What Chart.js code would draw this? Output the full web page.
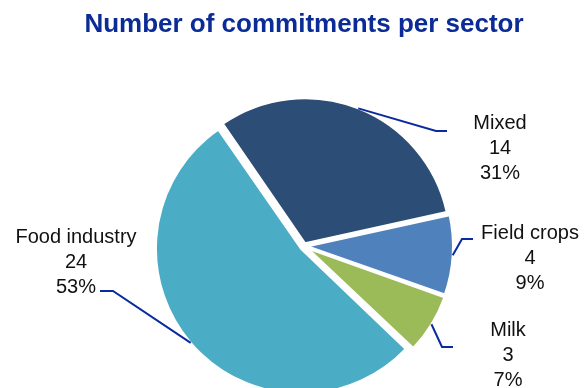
<!DOCTYPE html>
<html>
<head>
<meta charset="utf-8">
<script src="https://cdn.jsdelivr.net/npm/chart.js@4"></script>
<style>
  html, body { margin: 0; padding: 0; background: #fff; overflow: hidden; }
  #wrap { position: relative; width: 584px; height: 388px; }
</style>
</head>
<body>
<div id="wrap"><canvas id="chart"></canvas></div>
<script>
const sectors = ['Mixed', 'Field crops', 'Milk', 'Food industry'];
const commitments = [14, 4, 3, 24];
const sliceColors = ['#2C4D75', '#4F81BD', '#9BBB59', '#4BACC6'];
const explode = [12, 16, 18, 16]; // chart.js pushes a slice out by offset / 4

// text centre of each label and the bend of its leader line
const labelSpots = [
  { tx: 500, ty: 123, bendX: 436, bendY: 131, endX: 447 },
  { tx: 530, ty: 233, bendX: 462, bendY: 239, endX: 473 },
  { tx: 508, ty: 330, bendX: 442, bendY: 347, endX: 453 },
  { tx: 76, ty: 237, bendX: 113, bendY: 291, endX: 100 }
];

Chart.defaults.font.family = '"Liberation Sans", Arial, sans-serif';

// exploded arcs get a slightly larger radius in chart.js; keep every slice the same size
const evenRadius = {
  id: 'evenRadius',
  beforeDatasetDraw(chart, args) {
    args.meta.data.forEach(arc => {
      const shift = (arc.options.offset || 0) / 4;
      arc.$bump = shift * (1 - Math.sin(Math.min(Math.PI, arc.circumference)));
      arc.outerRadius -= arc.$bump;
    });
  },
  afterDatasetDraw(chart, args) {
    args.meta.data.forEach(arc => { arc.outerRadius += arc.$bump; });
  }
};

const sliceLabels = {
  id: 'sliceLabels',
  afterDatasetsDraw(chart) {
    const ctx = chart.ctx;
    const meta = chart.getDatasetMeta(0);
    const total = commitments.reduce((a, b) => a + b, 0);
    meta.data.forEach((arc, i) => {
      const p = arc.getProps(['x', 'y', 'startAngle', 'endAngle', 'outerRadius'], true);
      const mid = (p.startAngle + p.endAngle) / 2;
      const shift = (arc.options.offset || 0) / 4;
      const ax = p.x + Math.cos(mid) * (shift + p.outerRadius);
      const ay = p.y + Math.sin(mid) * (shift + p.outerRadius);
      const s = labelSpots[i];

      ctx.save();
      ctx.strokeStyle = '#0A2A9E';
      ctx.lineWidth = 2;
      ctx.beginPath();
      ctx.moveTo(ax, ay);
      ctx.lineTo(s.bendX, s.bendY);
      ctx.lineTo(s.endX, s.bendY);
      ctx.stroke();

      ctx.fillStyle = '#111';
      ctx.font = '20px "Liberation Sans", Arial, sans-serif';
      ctx.textAlign = 'center';
      ctx.textBaseline = 'middle';
      const lines = [sectors[i], String(commitments[i]), Math.round(commitments[i] / total * 100) + '%'];
      lines.forEach((t, k) => ctx.fillText(t, s.tx, s.ty + k * 25));
      ctx.restore();
    });
  }
};

new Chart(document.getElementById('chart'), {
  type: 'pie',
  data: {
    labels: sectors,
    datasets: [{
      data: commitments,
      backgroundColor: sliceColors,
      offset: explode,
      borderColor: '#fff',
      borderWidth: 2
    }]
  },
  options: {
    responsive: true,
    maintainAspectRatio: false,
    animation: false,
    events: [],
    rotation: -34.5,
    radius: 145,
    layout: { padding: { left: 24, right: 0, top: 0, bottom: 0 } },
    plugins: {
      legend: { display: false },
      tooltip: { enabled: false },
      title: {
        display: true,
        text: 'Number of commitments per sector',
        color: '#0B2C96',
        font: { size: 26, weight: 'bold' },
        padding: { top: 9, bottom: 64 }
      }
    }
  },
  plugins: [evenRadius, sliceLabels]
});
</script>
</body>
</html>
